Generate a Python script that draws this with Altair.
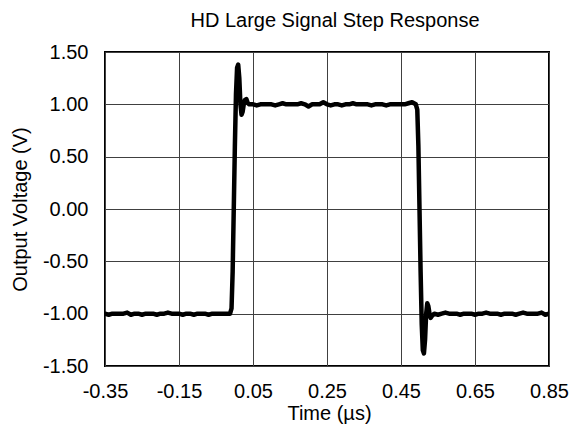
import altair as alt
import pandas as pd

x_ticks = [-0.35, -0.15, 0.05, 0.25, 0.45, 0.65, 0.85]
y_ticks = [-1.5, -1.0, -0.5, 0.0, 0.5, 1.0, 1.5]

# pre-step baseline
t_pre = [-0.35, -0.34, -0.33, -0.32, -0.31, -0.30, -0.29, -0.28, -0.27, -0.26,
         -0.25, -0.24, -0.23, -0.22, -0.21, -0.20, -0.19, -0.18, -0.17, -0.16,
         -0.15, -0.14, -0.13, -0.12, -0.11, -0.10, -0.09, -0.08, -0.07, -0.06,
         -0.05, -0.04, -0.03, -0.02]
v_pre = [-1.00, -1.01, -1.00, -1.00, -1.00, -1.00, -0.99, -1.01, -1.00, -1.00,
         -1.01, -1.00, -1.00, -1.00, -1.01, -1.00, -1.00, -0.99, -1.00, -1.00,
         -1.00, -1.01, -1.00, -1.00, -1.01, -1.00, -1.00, -1.00, -1.01, -1.00,
         -1.00, -1.00, -1.00, -1.00]
# rising edge with overshoot and ringing
t_rise = [-0.012, -0.008, -0.005, -0.002, 0.001, 0.004, 0.007, 0.010, 0.013,
          0.016, 0.019, 0.022, 0.025, 0.028, 0.032, 0.036, 0.040]
v_rise = [-1.00, -0.95, -0.60, 0.00, 0.60, 1.10, 1.35, 1.38, 1.25,
          1.00, 0.90, 0.93, 1.00, 1.04, 1.05, 1.01, 1.00]
# high level
t_high = [0.05, 0.06, 0.07, 0.08, 0.09, 0.10, 0.11, 0.12, 0.13, 0.14,
          0.15, 0.16, 0.17, 0.18, 0.19, 0.20, 0.21, 0.22, 0.23, 0.24,
          0.25, 0.26, 0.27, 0.28, 0.29, 0.30, 0.31, 0.32, 0.33, 0.34,
          0.35, 0.36, 0.37, 0.38, 0.39, 0.40, 0.41, 0.42, 0.43, 0.44,
          0.45, 0.46, 0.47, 0.48]
v_high = [1.00, 0.99, 1.00, 1.00, 1.00, 1.00, 0.99, 1.00, 1.01, 1.00,
          1.00, 1.00, 1.00, 1.01, 1.00, 0.98, 1.00, 1.00, 1.00, 1.02,
          1.00, 0.99, 1.00, 1.00, 0.99, 1.00, 1.00, 1.01, 1.00, 1.00,
          1.00, 1.00, 0.99, 1.00, 1.00, 1.00, 0.99, 1.00, 1.00, 1.00,
          1.00, 1.00, 1.01, 1.02]
# falling edge with undershoot and ringing
t_fall = [0.490, 0.494, 0.497, 0.500, 0.503, 0.506, 0.509, 0.512, 0.515,
          0.518, 0.521, 0.524, 0.527, 0.530, 0.534, 0.540]
v_fall = [1.00, 0.95, 0.60, 0.00, -0.60, -1.10, -1.35, -1.38, -1.25,
          -1.00, -0.90, -0.93, -1.00, -1.04, -1.02, -1.00]
# low level after step
t_low = [0.55, 0.56, 0.57, 0.58, 0.59, 0.60, 0.61, 0.62, 0.63, 0.64,
         0.65, 0.66, 0.67, 0.68, 0.69, 0.70, 0.71, 0.72, 0.73, 0.74,
         0.75, 0.76, 0.77, 0.78, 0.79, 0.80, 0.81, 0.82, 0.83, 0.84, 0.85]
v_low = [-1.01, -1.00, -0.99, -1.00, -1.00, -1.00, -1.01, -1.00, -1.00, -1.00,
         -1.01, -1.00, -1.00, -0.99, -1.00, -1.00, -1.00, -1.01, -1.00, -1.00,
         -1.00, -1.01, -1.00, -0.99, -1.00, -1.00, -1.00, -1.00, -0.99, -1.01, -1.00]

time_us = t_pre + t_rise + t_high + t_fall + t_low
voltage_v = v_pre + v_rise + v_high + v_fall + v_low

df = pd.DataFrame({"t": time_us, "v": voltage_v, "i": list(range(len(time_us)))})

FONT = "Liberation Sans"
LABEL_EXPR = "(datum.value < -1e-9 ? '-' : '') + format(abs(datum.value), '.2f')"

chart = alt.Chart(df).mark_line(
    color="black", strokeWidth=4.5, strokeJoin="round", strokeCap="round", clip=True
).encode(
    x=alt.X("t:Q",
            scale=alt.Scale(domain=[-0.35, 0.85], nice=False, zero=False),
            axis=alt.Axis(values=x_ticks, labelExpr=LABEL_EXPR, title="Time (µs)",
                          grid=True, ticks=False, domain=False, labelOverlap=False,
                          labelFlush=False,
                          labelPadding=15, titleY=47, titleBaseline="middle",
                          titleX=224)),
    y=alt.Y("v:Q",
            scale=alt.Scale(domain=[-1.5, 1.5], nice=False, zero=False),
            axis=alt.Axis(values=y_ticks, labelExpr=LABEL_EXPR, title="Output Voltage (V)",
                          grid=True, ticks=False, domain=False, labelOverlap=False,
                          labelFlush=False,
                          labelPadding=17, titleX=-85, titleY=157,
                          titleAngle=270, titleBaseline="middle", titleAlign="center")),
    order="i:Q",
).properties(
    width=444,
    height=314,
    title=alt.TitleParams("HD Large Signal Step Response", font=FONT, fontSize=20,
                          fontWeight="normal", color="black", anchor="middle",
                          offset=11, dx=8),
    autosize="none",
    background="white",
    padding={"left": 105, "top": 52, "right": 30, "bottom": 67},
).configure_view(
    stroke="black", strokeWidth=2
).configure_axis(
    labelFont=FONT, titleFont=FONT, labelFontSize=20, titleFontSize=20,
    labelColor="black", titleColor="black", titleFontWeight="normal",
    gridColor="#404040", gridWidth=1, gridOpacity=1,
)

chart.save("out.html", embed_options={"renderer": "svg", "actions": False})
